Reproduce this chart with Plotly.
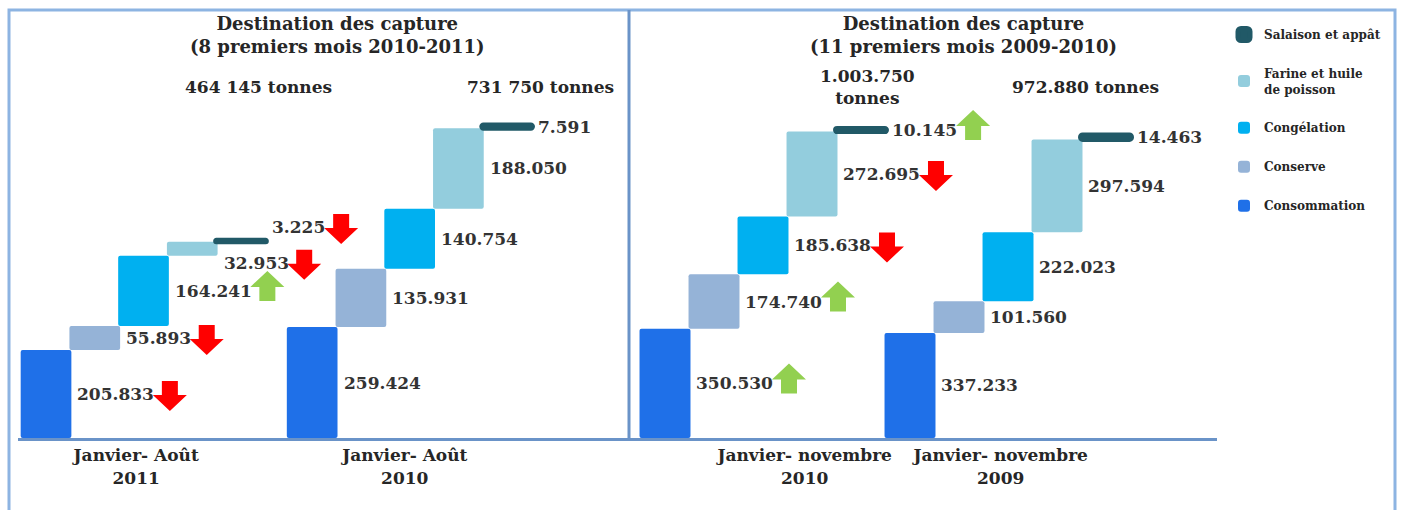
import plotly.graph_objects as go

# ---- data (milliers de tonnes) ----
categories = ["Consommation", "Conserve", "Congélation",
              "Farine et huile<br>de poisson", "Salaison et appât"]

aout_2011 = [205.833, 55.893, 164.241, 32.953, 3.225]
aout_2010 = [259.424, 135.931, 140.754, 188.050, 7.591]
nov_2010 = [350.530, 174.740, 185.638, 272.695, 10.145]
nov_2009 = [337.233, 101.560, 222.023, 297.594, 14.463]

period_labels = ["Janvier- Août<br>2011", "Janvier- Août<br>2010",
                 "Janvier- novembre<br>2010", "Janvier- novembre<br>2009"]
total_labels = ["464 145 tonnes", "731 750 tonnes",
                "1.003.750<br>tonnes", "972.880 tonnes"]
titles = ["Destination des capture<br>(8 premiers mois 2010-2011)",
          "Destination des capture<br>(11 premiers mois 2009-2010)"]

# evolution vs. the previous period
trend_aout_2011 = ["down", "down", "up", "down", "down"]
trend_nov_2010 = ["up", "up", "down", "down", "up"]

# ---- styling ----
W, H = 1402, 510
colors = ["#1F70E8", "#95B3D7", "#00B0F0", "#93CDDD", "#215967"]
FONT = "DejaVu Serif"
TXT = "#262626"
AXIS_BLUE = "#6A93C8"
FRAME_BLUE = "#8DB4E2"
BAR_W = 1.04
VALUE_SIZE = 17


def px(x):
    return x / W


def py(y):
    return 1 - y / H


def bold(s):
    return "<b>" + s.replace("<br>", "</b><br><b>") + "</b>"


def block_arrow(cx, cy, up):
    """SVG path of a block arrow, in pixels around (cx, cy), y pointing up."""
    s = 1 if up else -1
    pts = [(-8, -15 * s), (8, -15 * s), (8, -1 * s), (17, -1 * s),
           (0, 15 * s), (-17, -1 * s), (-8, -1 * s)]
    return "M " + " L ".join(f"{cx + x:.1f},{cy + y:.1f}" for x, y in pts) + " Z"


panels = [
    dict(xa="x", ya="y", groups=[aout_2011, aout_2010],
         trends=[trend_aout_2011, None], offsets=[0, 5.46],
         xdom=[px(18), px(629)], xrange=[-0.575, 11.96], ymax=790,
         tick_shift=[-0.15, -0.1], label_dy=[[0, 0, 0, -14, 14], [0, 0, 0, 0, 0]],
         title_x=px(337), totals_xy=[(258, 87), (540, 87)]),
    dict(xa="x2", ya="y2", groups=[nov_2010, nov_2009],
         trends=[trend_nov_2010, None], offsets=[0, 5.0],
         xdom=[px(629), px(1217)], xrange=[-0.735, 11.265], ymax=1085,
         tick_shift=[0.85, -0.15], label_dy=[[0, 0, 0, 0, 0], [0, 0, 0, 0, 0]],
         title_x=px(963), totals_xy=[(867, 87), (1085, 87)]),
]

fig = go.Figure()
annotations = []
shapes = []

for p_idx, pan in enumerate(panels):
    # stacked waterfall: each bar starts where the previous one ends
    for i, cat in enumerate(categories):
        xs = [off + i for off in pan["offsets"]]
        ys = [g[i] for g in pan["groups"]]
        bases = [sum(g[:i]) for g in pan["groups"]]
        thin = i == len(categories) - 1
        fig.add_trace(go.Bar(
            x=xs, y=ys, base=bases, width=BAR_W, name=bold(cat),
            legendgroup=cat, legendrank=len(categories) - i,
            showlegend=(p_idx == 0),
            marker=dict(color=colors[i], cornerradius=2,
                        line=dict(color=colors[i], width=5 if thin else 0)),
            xaxis=pan["xa"], yaxis=pan["ya"], hoverinfo="skip",
        ))

    for g_idx, (grp, off) in enumerate(zip(pan["groups"], pan["offsets"])):
        trend = pan["trends"][g_idx]
        for i, v in enumerate(grp):
            base = sum(grp[:i])
            txt = f"{v:.3f}"
            dy = pan["label_dy"][g_idx][i]
            lx = off + i + BAR_W / 2
            ly = base + v / 2
            annotations.append(dict(
                x=lx, y=ly, xref=pan["xa"], yref=pan["ya"], text=f"<b>{txt}</b>",
                showarrow=False, xanchor="left", yanchor="middle",
                xshift=4, yshift=dy,
                font=dict(family=FONT, size=VALUE_SIZE, color="#333333")))
            if trend:
                width_est = sum((0.38 if c == "." else 0.696) * VALUE_SIZE for c in txt)
                up = trend[i] == "up"
                shapes.append(dict(
                    type="path", xref=pan["xa"], yref=pan["ya"],
                    xsizemode="pixel", ysizemode="pixel", xanchor=lx, yanchor=ly,
                    path=block_arrow(4 + width_est + 17, dy + (5 if up else -2), up),
                    fillcolor="#92D050" if up else "#FF0000", line=dict(width=0)))

    ax_suffix = pan["xa"][1:]
    ya_suffix = pan["ya"][1:]
    tickvals = [off + 2 + s for off, s in zip(pan["offsets"], pan["tick_shift"])]
    fig.update_layout(**{
        f"xaxis{ax_suffix}": dict(
            domain=pan["xdom"], range=pan["xrange"], anchor=pan["ya"],
            showgrid=False, zeroline=False, showline=True,
            linecolor=AXIS_BLUE, linewidth=3, ticks="",
            tickvals=tickvals,
            ticktext=[bold(t) for t in period_labels[2 * p_idx:2 * p_idx + 2]],
            tickfont=dict(family=FONT, size=17, color=TXT), fixedrange=True),
        f"yaxis{ya_suffix}": dict(
            domain=[py(438), py(100)], range=[0, pan["ymax"]], anchor=pan["xa"],
            visible=False, fixedrange=True),
    })

    annotations.append(dict(
        x=pan["title_x"], y=py(11), xref="paper", yref="paper",
        text=bold(titles[p_idx]),
        showarrow=False, xanchor="center", yanchor="top",
        font=dict(family=FONT, size=18, color=TXT)))
    for k, (tx, ty) in enumerate(pan["totals_xy"]):
        annotations.append(dict(
            x=px(tx), y=py(ty), xref="paper", yref="paper",
            text=bold(total_labels[2 * p_idx + k]),
            showarrow=False, xanchor="center", yanchor="middle",
            font=dict(family=FONT, size=17, color=TXT)))

shapes += [
    dict(type="rect", xref="paper", yref="paper", x0=px(9), x1=px(1395),
         y0=py(520), y1=py(10), line=dict(color=FRAME_BLUE, width=3), layer="below"),
    dict(type="line", xref="paper", yref="paper", x0=px(629), x1=px(629),
         y0=py(438), y1=py(10), line=dict(color=AXIS_BLUE, width=3)),
]

fig.update_layout(
    width=W, height=H, margin=dict(l=0, r=0, t=0, b=0),
    paper_bgcolor="white", plot_bgcolor="white",
    barmode="overlay", annotations=annotations, shapes=shapes,
    legend=dict(x=px(1224), y=py(20), xanchor="left", yanchor="top",
                traceorder="grouped", tracegroupgap=20,
                font=dict(family=FONT, size=12, color=TXT),
                bgcolor="rgba(0,0,0,0)", itemclick=False, itemdoubleclick=False),
    showlegend=True,
)

fig.write_html("out.html")
